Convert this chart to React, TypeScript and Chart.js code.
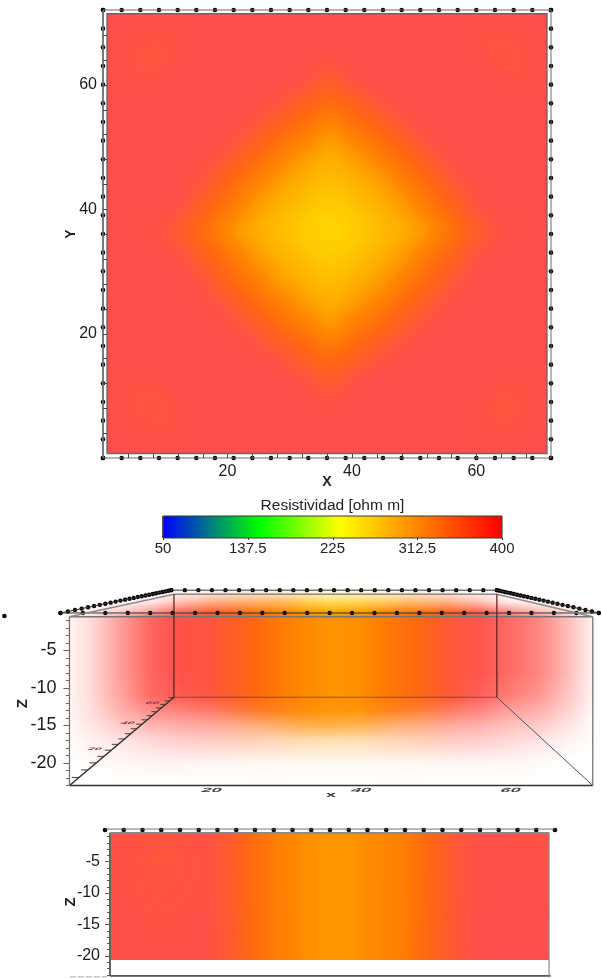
import React, { useEffect, useRef } from 'react';
import { Chart, registerables } from 'chart.js';

Chart.register(...registerables);

// ---------- data ----------
const electrodePositions = [0, 3, 6, 9, 12, 15, 18, 21, 24, 27, 30, 33, 36, 39, 42, 45, 48, 51, 54, 57, 60, 63, 66, 69, 72];
const planTicks = [4, 8, 12, 16, 20, 24, 28, 32, 36, 40, 44, 48, 52, 56, 60, 64, 68];
const planLabels = [20, 40, 60];
const gridX = [0, 4, 8, 12, 16, 20, 24, 28, 32, 36, 40, 44, 48, 52, 56, 60, 64, 68, 72];
const planX = [0.5, 4.5, 8.5, 12.5, 16.5, 20.5, 24.5, 28.5, 32.5, 36.5, 40.5, 44.5, 48.5, 52.5, 56.5, 60.5, 64.5, 68.5, 72.5];
const planY = [72.6, 68.6, 64.6, 60.6, 56.6, 52.6, 48.6, 44.6, 40.6, 36.6, 32.6, 28.6, 24.6, 20.6, 16.6, 12.6, 8.6, 4.6, 0.6];
const planValues = [
  [396, 396, 396, 396, 396, 396, 396, 396, 396, 396, 396, 396, 396, 396, 396, 396, 396, 396, 396],
  [396, 392, 390, 391, 395, 395, 395, 395, 394, 394, 394, 395, 395, 395, 395, 391, 390, 392, 396],
  [396, 390, 385, 392, 395, 395, 395, 394, 393, 390, 393, 394, 395, 395, 395, 392, 385, 390, 396],
  [396, 391, 392, 395, 395, 395, 394, 393, 388, 374, 388, 393, 394, 395, 395, 395, 392, 391, 396],
  [396, 395, 395, 395, 395, 394, 391, 382, 361, 345, 361, 382, 391, 394, 395, 395, 395, 395, 396],
  [396, 395, 395, 395, 394, 391, 378, 353, 331, 308, 331, 353, 378, 391, 394, 395, 395, 395, 396],
  [396, 395, 395, 394, 391, 378, 351, 323, 299, 285, 299, 323, 351, 378, 391, 394, 395, 395, 396],
  [396, 395, 394, 392, 382, 353, 323, 296, 280, 272, 280, 296, 323, 353, 382, 392, 394, 395, 396],
  [396, 394, 393, 388, 361, 331, 299, 280, 268, 258, 268, 280, 299, 331, 361, 388, 393, 394, 396],
  [396, 392, 390, 374, 345, 308, 285, 272, 258, 240, 258, 272, 285, 308, 345, 374, 390, 392, 396],
  [396, 394, 393, 388, 361, 331, 299, 280, 268, 258, 268, 280, 299, 331, 361, 388, 393, 394, 396],
  [396, 395, 394, 392, 382, 353, 323, 296, 280, 272, 280, 296, 323, 353, 382, 392, 394, 395, 396],
  [396, 395, 395, 394, 391, 378, 351, 323, 299, 285, 299, 323, 351, 378, 391, 394, 395, 395, 396],
  [396, 395, 395, 395, 394, 391, 378, 353, 331, 308, 331, 353, 378, 391, 394, 395, 395, 395, 396],
  [396, 395, 395, 395, 395, 394, 391, 382, 361, 345, 361, 382, 391, 394, 395, 395, 395, 395, 396],
  [396, 391, 392, 395, 395, 395, 394, 393, 388, 374, 388, 393, 394, 395, 395, 395, 392, 391, 396],
  [396, 390, 385, 392, 395, 395, 395, 394, 393, 390, 393, 394, 395, 395, 395, 392, 385, 390, 396],
  [396, 392, 390, 391, 395, 395, 395, 395, 394, 394, 394, 395, 395, 395, 395, 391, 390, 392, 396],
  [396, 396, 396, 396, 396, 396, 396, 396, 396, 396, 396, 396, 396, 396, 396, 396, 396, 396, 396],
];

const colorbarTicks = [50, 137.5, 225, 312.5, 400];
const colorbarStopValues = [50, 150, 232, 400];
const colorbarStopColors = ['#0000ff', '#00ff00', '#ffff00', '#ff0000'];

const depthTicksMinor = [-1, -2, -3, -4, -5, -6, -7, -8, -9, -10, -11, -12, -13, -14, -15, -16, -17, -18, -19, -20, -21, -22, -23];
const depthLabels = [-5, -10, -15, -20];

const volumeZ = [3, 1.5, 0, -0.6, -4, -8, -11, -13, -15, -17, -20, -23];
const volumeTopProfile = [392, 392, 392, 390, 382, 365, 345, 318, 285, 262, 270, 290, 320, 350, 380, 390, 392, 392, 392];
const volumeUpperProfile = [392, 392, 392, 390, 385, 372, 350, 325, 305, 295, 298, 318, 342, 365, 385, 392, 392, 392, 392];
const volumeProfile = [392, 392, 392, 392, 392, 385, 365, 338, 312, 303, 305, 330, 352, 380, 392, 392, 392, 392, 392];
const volumeValues = [volumeTopProfile, volumeTopProfile, volumeUpperProfile, volumeProfile, volumeProfile, volumeProfile, volumeProfile, volumeProfile, volumeProfile, volumeProfile, volumeProfile, volumeProfile];
const volumeOpacity = [
  [0, 0, 0, 0, 0, 3, 5, 6, 8, 8, 8, 6, 5, 3, 0, 0, 0, 0, 0],
  [0, 0, 3, 12, 35, 50, 55, 60, 65, 65, 65, 60, 55, 50, 35, 12, 3, 0, 0],
  [0, 10, 30, 60, 90, 100, 100, 100, 100, 100, 100, 100, 100, 100, 95, 70, 45, 20, 0],
  [0, 20, 55, 88, 100, 100, 100, 100, 100, 100, 100, 100, 100, 100, 98, 85, 70, 37, 0],
  [0, 20, 55, 88, 100, 100, 100, 100, 100, 100, 100, 100, 100, 100, 98, 85, 70, 37, 0],
  [0, 20, 55, 88, 100, 100, 100, 100, 100, 100, 100, 100, 100, 100, 98, 85, 70, 37, 0],
  [0, 20, 52, 85, 95, 100, 100, 100, 100, 100, 100, 100, 100, 100, 92, 75, 60, 32, 0],
  [0, 18, 45, 65, 72, 78, 85, 92, 96, 97, 96, 92, 85, 78, 70, 55, 45, 25, 0],
  [0, 14, 30, 42, 48, 50, 52, 58, 68, 72, 68, 58, 52, 50, 45, 36, 30, 15, 0],
  [0, 8, 15, 22, 28, 30, 30, 30, 30, 30, 30, 30, 30, 30, 28, 22, 15, 6, 0],
  [0, 2, 4, 6, 6, 5, 5, 5, 5, 5, 5, 5, 5, 5, 5, 4, 3, 0, 0],
  [0, 0, 0, 0, 0, 0, 0, 0, 0, 0, 0, 0, 0, 0, 0, 0, 0, 0, 0],
];
const floorDepthTicks = [4, 8, 12, 16, 20, 24, 28, 32, 36, 40, 44, 48, 52, 56, 60, 64, 68];
const floorDepthLabels = [20, 40, 60];

const sectionZ = [0, -5, -10, -15, -21];
const sectionValues = [
  [392, 390, 386, 388, 392, 375, 345, 320, 306, 300, 303, 312, 325, 355, 380, 392, 392, 390, 388],
  [392, 390, 384, 386, 390, 374, 345, 320, 306, 300, 303, 312, 325, 355, 380, 392, 392, 392, 390],
  [392, 390, 386, 388, 390, 375, 345, 320, 306, 300, 303, 312, 326, 355, 380, 392, 394, 394, 392],
  [392, 392, 390, 390, 392, 376, 346, 322, 306, 300, 303, 312, 326, 356, 381, 393, 395, 395, 394],
  [394, 392, 392, 392, 392, 377, 347, 322, 307, 300, 303, 312, 327, 356, 381, 394, 396, 396, 395],
];

// display colours of the semi-transparent volume
const displayValues = [240, 262, 285, 312, 350, 372, 390, 396];
const displayColors = [[255, 212, 0], [255, 200, 0], [255, 170, 0], [255, 135, 0], [255, 105, 15], [255, 92, 40], [255, 82, 70], [254, 79, 78]];

// perspective of the 3-D view
const perspectiveK = 0.00907;
const vanishX = 37.5;
const vanishZ = 7.7;

// ---------- helpers ----------
const FONT = "'Liberation Sans', Arial, sans-serif";
const W = 602;
const H = 978;

function locate(arr: number[], v: number): [number, number] {
  const n = arr.length;
  const sign = arr[1] > arr[0] ? 1 : -1;
  if (sign * (v - arr[0]) <= 0) return [0, 0];
  if (sign * (v - arr[n - 1]) >= 0) return [n - 2, 1];
  for (let i = 0; i < n - 1; i++) {
    if (sign * (v - arr[i + 1]) <= 0) return [i, (v - arr[i]) / (arr[i + 1] - arr[i])];
  }
  return [n - 2, 1];
}

function sample(grid: number[][], xs: number[], ys: number[], x: number, y: number) {
  const [i, tx] = locate(xs, x);
  const [j, ty] = locate(ys, y);
  const a = grid[j][i] + (grid[j][i + 1] - grid[j][i]) * tx;
  const b = grid[j + 1][i] + (grid[j + 1][i + 1] - grid[j + 1][i]) * tx;
  return a + (b - a) * ty;
}

const cubic = (p0: number, p1: number, p2: number, p3: number, t: number) =>
  p1 + 0.5 * t * (p2 - p0 + t * (2 * p0 - 5 * p1 + 4 * p2 - p3 + t * (3 * (p1 - p2) + p3 - p0)));

function sampleSmooth(grid: number[][], xs: number[], ys: number[], x: number, y: number) {
  const [i, tx] = locate(xs, x);
  const [j, ty] = locate(ys, y);
  const row = (r: number) => {
    const g = grid[Math.max(0, Math.min(grid.length - 1, r))];
    const at = (c: number) => g[Math.max(0, Math.min(g.length - 1, c))];
    return cubic(at(i - 1), at(i), at(i + 1), at(i + 2), tx);
  };
  return cubic(row(j - 1), row(j), row(j + 1), row(j + 2), ty);
}

function displayColor(v: number) {
  const [i, t] = locate(displayValues, v);
  const a = displayColors[i];
  const b = displayColors[i + 1];
  return [a[0] + (b[0] - a[0]) * t, a[1] + (b[1] - a[1]) * t, a[2] + (b[2] - a[2]) * t];
}

type HeatSpec = { xs: number[]; ys: number[]; values: number[][]; opacity?: number[][]; smooth?: boolean; x0: number; x1: number; y0: number; y1: number };

function heatPlugin(spec: HeatSpec) {
  const read = spec.smooth ? sampleSmooth : sample;
  return {
    id: 'heat',
    beforeDatasetsDraw(chart: any) {
      const sx = chart.scales.x;
      const sy = chart.scales.y;
      const left = Math.round(sx.getPixelForValue(spec.x0));
      const right = Math.round(sx.getPixelForValue(spec.x1));
      const top = Math.round(sy.getPixelForValue(spec.y1));
      const bottom = Math.round(sy.getPixelForValue(spec.y0));
      const w = right - left;
      const h = bottom - top;
      const off = document.createElement('canvas');
      off.width = w;
      off.height = h;
      const octx = off.getContext('2d')!;
      const img = octx.createImageData(w, h);
      for (let py = 0; py < h; py++) {
        const yv = sy.getValueForPixel(top + py + 0.5);
        for (let px = 0; px < w; px++) {
          const xv = sx.getValueForPixel(left + px + 0.5);
          const c = displayColor(read(spec.values, spec.xs, spec.ys, xv, yv));
          const a = spec.opacity ? sample(spec.opacity, spec.xs, spec.ys, xv, yv) / 100 : 1;
          const k = (py * w + px) * 4;
          img.data[k] = c[0];
          img.data[k + 1] = c[1];
          img.data[k + 2] = c[2];
          img.data[k + 3] = a * 255;
        }
      }
      octx.putImageData(img, 0, 0);
      chart.ctx.drawImage(off, left, top);
    },
  };
}

type TickSpec = { axis: 'x' | 'y'; at: number; values: number[]; dir: number; len: (v: number) => number; color: string; width?: number };

function ticksPlugin(specs: TickSpec[]) {
  return {
    id: 'markTicks',
    afterDatasetsDraw(chart: any) {
      const ctx = chart.ctx;
      const sx = chart.scales.x;
      const sy = chart.scales.y;
      ctx.save();
      for (const s of specs) {
        ctx.strokeStyle = s.color;
        ctx.lineWidth = s.width ?? 1;
        for (const v of s.values) {
          ctx.beginPath();
          if (s.axis === 'x') {
            const px = Math.round(sx.getPixelForValue(v)) + 0.5;
            const py = sy.getPixelForValue(s.at);
            ctx.moveTo(px, py);
            ctx.lineTo(px, py + s.dir * s.len(v));
          } else {
            const py = Math.round(sy.getPixelForValue(v)) + 0.5;
            const px = sx.getPixelForValue(s.at);
            ctx.moveTo(px, py);
            ctx.lineTo(px + s.dir * s.len(v), py);
          }
          ctx.stroke();
        }
      }
      ctx.restore();
    },
  };
}

type SquashSpec = { text: string; x: number; z: number; font: string; sx: number; sy: number; skew: number; color: string };

function squashedTextPlugin(items: SquashSpec[]) {
  return {
    id: 'squashedText',
    afterDatasetsDraw(chart: any) {
      const ctx = chart.ctx;
      for (const t of items) {
        ctx.save();
        ctx.translate(chart.scales.x.getPixelForValue(t.x), chart.scales.y.getPixelForValue(t.z));
        ctx.transform(t.sx, 0, t.skew, t.sy, 0, 0);
        ctx.font = t.font;
        ctx.fillStyle = t.color;
        ctx.textAlign = 'center';
        ctx.textBaseline = 'middle';
        ctx.fillText(t.text, 0, 0);
        ctx.restore();
      }
    },
  };
}

const segments = (lines: number[][][]) => {
  const out: { x: number; y: number }[] = [];
  lines.forEach((line) => {
    line.forEach(([x, y]) => out.push({ x, y }));
    out.push({ x: NaN, y: NaN });
  });
  return out;
};

const lineSet = (lines: number[][][], color: string, width = 1, dash: number[] = [], cap = 'butt') => ({
  data: segments(lines),
  showLine: true,
  pointRadius: 0,
  borderColor: color,
  borderWidth: width,
  borderDash: dash,
  borderCapStyle: cap,
  clip: false,
  spanGaps: false,
});

const dotSet = (pts: { x: number; y: number }[], r = 2.3) => ({
  data: pts,
  showLine: false,
  pointRadius: r,
  pointBackgroundColor: '#050505',
  pointBorderWidth: 0,
  clip: false,
});

const rect = (x0: number, x1: number, y0: number, y1: number) => [[x0, y0], [x1, y0], [x1, y1], [x0, y1], [x0, y0]];

function pinned(cfg: { padLeft: number; top: number; right: number; bottom: number; axisBottom?: number }) {
  return {
    responsive: false,
    animation: false as const,
    events: [] as string[],
    layout: {
      padding: { left: cfg.padLeft, top: cfg.top, right: W - cfg.right, bottom: H - cfg.bottom - (cfg.axisBottom ?? 0) },
    },
    plugins: { legend: { display: false }, tooltip: { enabled: false }, title: { display: false } },
  };
}

const tickSet = (values: number[]) => (s: any) => {
  s.ticks = values.map((value) => ({ value }));
};

const fitWidth = (w: number) => (s: any) => {
  s.width = w;
  s.paddingTop = 0;
  s.paddingBottom = 0;
};
const fitHeight = (h: number) => (s: any) => {
  s.height = h;
  s.paddingLeft = 0;
  s.paddingRight = 0;
};

function planChart(canvas: HTMLCanvasElement) {
  const edge = [
    ...electrodePositions.map((p) => ({ x: p, y: 72 })),
    ...electrodePositions.map((p) => ({ x: p, y: 0 })),
    ...electrodePositions.map((p) => ({ x: 0, y: p })),
    ...electrodePositions.map((p) => ({ x: 72, y: p })),
  ];
  return new Chart(canvas, {
    type: 'scatter',
    data: {
      datasets: [
        lineSet([rect(0, 72, 0, 72)], '#6a6a6a', 1),
        lineSet([rect(0.65, 71.35, 0.72, 71.4)], '#6f6560', 1.4),
        dotSet(edge),
      ] as any,
    },
    options: {
      ...pinned({ padLeft: 63, top: 10, right: 551, bottom: 458, axisBottom: 32.8 }),
      scales: {
        x: {
          type: 'linear', min: 0, max: 72,
          afterFit: fitHeight(32.8),
          afterBuildTicks: tickSet(planTicks),
          grid: { display: false, drawTicks: false }, border: { display: false },
          title: { display: true, text: 'X', color: '#222', font: { family: FONT, size: 14, weight: 'bold' }, padding: 0 },
          ticks: {
            autoSkip: false, maxRotation: 0, padding: 4, color: '#1a1a1a', font: { family: FONT, size: 16 },
            callback: (v: any) => (planLabels.includes(v) ? String(v) : ''),
          },
        },
        y: {
          type: 'linear', min: 0, max: 72,
          afterFit: fitWidth(40),
          afterBuildTicks: tickSet(planTicks),
          grid: { display: false, drawTicks: false }, border: { display: false },
          title: { display: true, text: 'Y', color: '#222', font: { family: FONT, size: 14, weight: 'bold' }, padding: 0 },
          ticks: {
            autoSkip: false, padding: 6, color: '#1a1a1a', font: { family: FONT, size: 16 },
            callback: (v: any) => (planLabels.includes(v) ? String(v) : ''),
          },
        },
      },
    } as any,
    plugins: [
      heatPlugin({ xs: planX, ys: planY, values: planValues, smooth: true, x0: 0.65, x1: 71.35, y0: 0.72, y1: 71.4 }),
      ticksPlugin([
        { axis: 'x', at: 0, values: planTicks, dir: -1, len: () => 4, color: '#444' },
        { axis: 'y', at: 0, values: planTicks, dir: 1, len: () => 4, color: '#444' },
      ]),
    ] as any,
  });
}

function colorbarChart(canvas: HTMLCanvasElement) {
  return new Chart(canvas, {
    type: 'scatter',
    data: {
      datasets: [lineSet([rect(50, 400, 0, 1)], '#3a3a30', 1)] as any,
    },
    options: {
      ...pinned({ padLeft: 163, top: 496, right: 502, bottom: 538, axisBottom: 20 }),
      scales: {
        x: {
          type: 'linear', min: 50, max: 400,
          afterFit: fitHeight(20),
          afterBuildTicks: tickSet(colorbarTicks),
          grid: { display: false, drawTicks: false }, border: { display: false },
          ticks: { autoSkip: false, maxRotation: 0, padding: 2, color: '#222', font: { family: FONT, size: 15 }, callback: (v: any) => String(v) },
        },
        xTitle: {
          type: 'linear', axis: 'x', position: 'top', min: 50, max: 400,
          afterFit: fitHeight(20),
          grid: { display: false, drawTicks: false }, border: { display: false },
          ticks: { display: false },
          title: { display: true, text: 'Resistividad [ohm m]', color: '#222', font: { family: FONT, size: 15.5 }, padding: 0 },
        },
        y: { type: 'linear', min: 0, max: 1, display: false },
      },
    } as any,
    plugins: [
      {
        id: 'colorbar',
        beforeDatasetsDraw(chart: any) {
          const { ctx, chartArea, scales } = chart;
          const g = ctx.createLinearGradient(scales.x.getPixelForValue(50), 0, scales.x.getPixelForValue(400), 0);
          colorbarStopValues.forEach((v, i) => g.addColorStop((v - 50) / 350, colorbarStopColors[i]));
          ctx.fillStyle = g;
          ctx.fillRect(chartArea.left, chartArea.top, chartArea.right - chartArea.left, chartArea.bottom - chartArea.top);
        },
      },
      ticksPlugin([{ axis: 'x', at: 0, values: colorbarTicks, dir: 1, len: () => 2, color: '#333' }]),
    ] as any,
  });
}

const depthScale = (depth: number) => 1 / (1 + perspectiveK * depth);
const project = (x: number, depth: number, z: number) => {
  const s = depthScale(depth);
  return { x: vanishX + (x - vanishX) * s, y: vanishZ + (z - vanishZ) * s };
};
const pp = (x: number, depth: number, z: number) => {
  const p = project(x, depth, z);
  return [p.x, p.y];
};

function volumeChart(canvas: HTMLCanvasElement) {
  const xl = 1.2;
  const xh = 71.2;
  const zt = -0.5;
  const zb = -23;
  const back = 72;
  const bxl = 0.6;
  const bxh = 72;
  const bzt = -0.9;
  const bzb = -23.6;
  const dots = [
    ...electrodePositions.map((p) => project(p, 0, 0)),
    ...electrodePositions.map((p) => project(p, 72, 0)),
    ...electrodePositions.map((p) => project(0, p, 0)),
    ...electrodePositions.map((p) => project(72, p, 0)),
  ];
  return new Chart(canvas, {
    type: 'scatter',
    data: {
      datasets: [
        lineSet([[pp(bxl, back, bzt), pp(bxl, back, bzb)], [pp(bxh, back, bzt), pp(bxh, back, bzb)], [pp(bxl, back, bzb), pp(bxh, back, bzb)]], 'rgba(90,30,30,0.55)', 1),
        lineSet([[pp(bxl, back, bzt), pp(bxh, back, bzt)], [pp(xl, 0, zt), pp(bxl, back, bzt)], [pp(xh, 0, zt), pp(bxh, back, bzt)]], '#8a8a8a', 1.4),
        lineSet([[pp(0, 0, 0), pp(72, 0, 0)], [pp(0, 72, 0), pp(72, 72, 0)], [pp(0, 0, 0), pp(0, 72, 0)], [pp(72, 0, 0), pp(72, 72, 0)]], '#333', 1),
        lineSet([[pp(xl, 0, zt), pp(xh, 0, zt)], [pp(xl, 0, zt), pp(xl, 0, zb)], [pp(xh, 0, zt), pp(xh, 0, zb)]], '#777', 1.3),
        lineSet([[pp(xl, 0, zb), pp(xh, 0, zb)], [pp(xl, 0, zb), pp(bxl, back, bzb)]], '#333', 1.6),
        lineSet([[pp(xh, 0, zb), pp(bxh, back, bzb)]], '#555', 1),
        lineSet(floorDepthTicks.map((d) => [pp(xl, d, zb), pp(xl - 1, d, zb)]), '#443', 1),
        lineSet([[[-7.5, -0.4], [-7.45, -0.4]]], '#050505', 4.6, [], 'round'),
        dotSet(dots, 2.2),
      ] as any,
    },
    options: {
      ...pinned({ padLeft: 14, top: 587.1, right: 602, bottom: 820 }),
      scales: {
        x: { type: 'linear', min: 0, max: 71.9, display: false },
        y: {
          type: 'linear', min: -27.6, max: 3.45,
          afterFit: fitWidth(46.5),
          afterBuildTicks: tickSet(depthTicksMinor),
          grid: { display: false, drawTicks: false }, border: { display: false },
          title: { display: true, text: 'Z', color: '#222', font: { family: FONT, size: 15, weight: 'bold' }, padding: 0 },
          ticks: {
            autoSkip: false, padding: 4, color: '#1a1a1a', font: { family: FONT, size: 18 },
            callback: (v: any) => (depthLabels.includes(v) ? String(v) : ''),
          },
        },
      },
    } as any,
    plugins: [
      heatPlugin({ xs: gridX, ys: volumeZ, values: volumeValues, opacity: volumeOpacity, x0: 0, x1: 72, y0: -23, y1: 3 }),
      ticksPlugin([{ axis: 'y', at: xl, values: depthTicksMinor, dir: -1, len: (v) => (v % 5 === 0 ? 6 : 3.5), color: '#666' }]),
      squashedTextPlugin([
        ...planLabels.map((v) => ({ text: String(v), x: v + 0.2, z: -23.7, font: `bold 12px ${FONT}`, sx: 1.5, sy: 0.5, skew: -0.4, color: '#444' })),
        { text: 'x', x: 36.2, z: -24.3, font: `bold 12px ${FONT}`, sx: 1.5, sy: 0.6, skew: 0, color: '#333' },
        ...floorDepthLabels.map((d) => {
          const p = project(xl - 2.6, d, zb);
          return { text: String(d), x: p.x, z: p.y + 0.2, font: `bold 9px ${FONT}`, sx: 1.35, sy: 0.42, skew: -0.5, color: '#7a3a3a' };
        }),
      ]),
    ] as any,
  });
}

function sectionChart(canvas: HTMLCanvasElement) {
  return new Chart(canvas, {
    type: 'scatter',
    data: {
      datasets: [
        lineSet([[[0.8, -0.45], [71.05, -0.45]]], '#8a8a8a', 1.6),
        lineSet([[[71.05, -0.45], [71.05, -23.2]]], '#8a8a8a', 1.2),
        lineSet([[[0.8, -0.45], [0.8, -23.2]]], '#555', 1.8),
        lineSet([[[0.8, -23.2], [71.3, -23.2]]], '#555', 1.6),
        lineSet([[[-5.6, -23.35], [0.4, -23.35]]], '#aaa', 1, [6, 2]),
        lineSet([[[0, 0.15], [72, 0.15]]], '#555', 0.8),
        dotSet(electrodePositions.map((p) => ({ x: p, y: 0 }))),
      ] as any,
    },
    options: {
      ...pinned({ padLeft: 62, top: 830, right: 555, bottom: 977.56 }),
      scales: {
        x: { type: 'linear', min: 0, max: 72, display: false },
        y: {
          type: 'linear', min: -22.9, max: 0,
          afterFit: fitWidth(43),
          afterBuildTicks: tickSet(depthTicksMinor),
          grid: { display: false, drawTicks: false }, border: { display: false },
          title: { display: true, text: 'Z', color: '#222', font: { family: FONT, size: 15, weight: 'bold' }, padding: 0 },
          ticks: {
            autoSkip: false, padding: 5, color: '#1a1a1a', font: { family: FONT, size: 16 },
            callback: (v: any) => (depthLabels.includes(v) ? String(v) : ''),
          },
        },
      },
    } as any,
    plugins: [
      heatPlugin({ xs: gridX, ys: sectionZ, values: sectionValues, x0: 0.9, x1: 71, y0: -20.6, y1: -0.5 }),
      ticksPlugin([{ axis: 'y', at: 0.8, values: depthTicksMinor, dir: -1, len: (v) => (v % 5 === 0 ? 5 : 3), color: '#555' }]),
    ] as any,
  });
}

export default function App() {
  const a = useRef<HTMLCanvasElement>(null);
  const b = useRef<HTMLCanvasElement>(null);
  const c = useRef<HTMLCanvasElement>(null);
  const d = useRef<HTMLCanvasElement>(null);

  useEffect(() => {
    document.body.style.margin = '0';
    const charts = [planChart(a.current!), colorbarChart(b.current!), volumeChart(c.current!), sectionChart(d.current!)];
    return () => charts.forEach((ch) => ch.destroy());
  }, []);

  const style: React.CSSProperties = { position: 'absolute', left: 0, top: 0, width: W, height: H, filter: 'blur(0.35px)' };
  return (
    <div style={{ position: 'fixed', left: 0, top: 0, width: W, height: H, background: '#fff', overflow: 'hidden' }}>
      <canvas ref={c} width={W} height={H} style={style} />
      <canvas ref={d} width={W} height={H} style={style} />
      <canvas ref={a} width={W} height={H} style={style} />
      <canvas ref={b} width={W} height={H} style={style} />
    </div>
  );
}
